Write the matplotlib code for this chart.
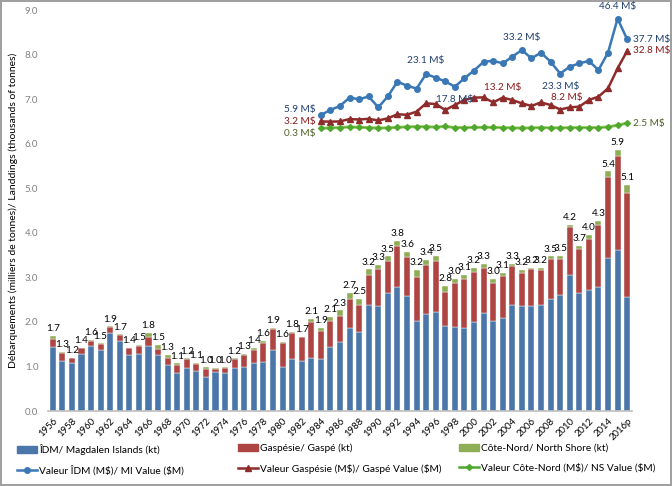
import numpy as np
import matplotlib
matplotlib.use("Agg")
import matplotlib.pyplot as plt
from matplotlib.patches import Patch
from matplotlib.lines import Line2D

plt.rcParams['font.family'] = ['Lato', 'DejaVu Sans']
plt.rcParams['text.parse_math'] = False

years = [str(y) for y in range(1956, 2016)] + ['2016p']

# landings (thousands of tonnes)
idm = [1.44, 1.13, 1.07, 1.29, 1.47, 1.38, 1.74, 1.58, 1.25, 1.29,
       1.47, 1.26, 1.04, 0.86, 0.97, 0.90, 0.77, 0.88, 0.86, 0.96,
       0.98, 1.07, 1.09, 1.37, 0.99, 1.17, 1.13, 1.18, 1.17, 1.43,
       1.56, 1.87, 1.78, 2.39, 2.36, 2.64, 2.79, 2.59, 2.03, 2.17,
       2.23, 1.90, 1.89, 1.87, 2.00, 2.19, 2.03, 2.09, 2.37, 2.35,
       2.35, 2.39, 2.51, 2.60, 3.05, 2.66, 2.71, 2.78, 3.43, 3.61, 2.57]
gaspe = [0.18, 0.18, 0.11, 0.12, 0.11, 0.13, 0.15, 0.13, 0.16, 0.18,
         0.20, 0.14, 0.16, 0.18, 0.19, 0.16, 0.18, 0.06, 0.10, 0.20,
         0.28, 0.31, 0.44, 0.46, 0.54, 0.57, 0.53, 0.82, 0.63, 0.59,
         0.58, 0.64, 0.61, 0.67, 0.83, 0.73, 0.92, 0.86, 0.97, 1.10,
         1.14, 0.78, 0.98, 1.10, 1.13, 1.03, 0.85, 0.95, 0.88, 0.75,
         0.83, 0.77, 0.90, 0.82, 1.07, 0.97, 1.16, 1.39, 1.83, 2.11, 2.33]
ns = [0.06, 0.01, 0.02, 0.01, 0.02, 0.01, 0.01, 0.01, 0.01, 0.02,
      0.09, 0.09, 0.06, 0.03, 0.02, 0.02, 0.03, 0.02, 0.02, 0.02,
      0.03, 0.03, 0.05, 0.03, 0.03, 0.03, 0.01, 0.06, 0.06, 0.09,
      0.12, 0.15, 0.12, 0.12, 0.09, 0.10, 0.11, 0.13, 0.16, 0.12,
      0.11, 0.13, 0.09, 0.09, 0.09, 0.08, 0.08, 0.06, 0.05, 0.06,
      0.04, 0.06, 0.06, 0.06, 0.06, 0.07, 0.09, 0.09, 0.12, 0.14, 0.18]

# landed values (M$), 1984 - 2016p
val_years = years[28:]
val_idm = [5.9, 8.0, 9.7, 13.2, 12.5, 13.7, 9.1, 13.7, 19.9, 18.2,
           17.0, 23.1, 21.6, 20.0, 17.8, 21.3, 24.6, 28.2, 28.7, 27.6,
           30.4, 33.2, 29.7, 32.1, 28.3, 23.3, 26.2, 27.6, 28.6, 24.8,
           32.1, 46.4, 37.7]
val_gaspe = [3.2, 3.1, 3.2, 4.2, 4.0, 4.3, 3.6, 4.5, 6.2, 6.0,
             7.3, 10.8, 10.5, 8.0, 10.1, 12.2, 13.2, 13.3, 11.2, 13.2,
             12.2, 10.8, 9.7, 11.2, 10.1, 8.2, 9.1, 9.4, 12.2, 13.6,
             17.1, 25.5, 32.8]
val_ns = [0.3, 0.5, 0.6, 0.9, 0.7, 0.6, 0.4, 0.5, 0.7, 0.9,
          1.0, 1.0, 0.8, 1.1, 0.6, 0.6, 0.7, 0.7, 0.7, 0.6,
          0.5, 0.4, 0.5, 0.6, 0.5, 0.5, 0.6, 0.6, 0.6, 0.6,
          0.9, 1.6, 2.5]

c_blue, c_red, c_green = '#4A76AA', '#AE4542', '#8DAE55'
l_blue, l_red, l_green = '#3A78B5', '#8E2B2B', '#4EA72E'
t_blue, t_red, t_green = '#1F3F6F', '#8B1A1A', '#4F6228'

fig = plt.figure(figsize=(6.72, 4.86), dpi=100)
fig.patch.set_edgecolor('#A0A0A0')
fig.patch.set_linewidth(1.5)
ax = fig.add_axes([0.0714, 0.1543, 0.869, 0.825])

x = np.arange(len(years))
idm_a, gaspe_a, ns_a = np.array(idm), np.array(gaspe), np.array(ns)
w = 0.63
ax.bar(x, idm_a, w, color=c_blue, edgecolor='white', linewidth=0.3)
ax.bar(x, gaspe_a, w, bottom=idm_a, color=c_red, edgecolor='white', linewidth=0.3)
tot = idm_a + gaspe_a + ns_a
ax.bar(x, ns_a, w, bottom=idm_a + gaspe_a, color=c_green, edgecolor='white', linewidth=0.3)
for xi, t in zip(x, tot):
    ax.annotate('%.1f' % t, (xi, t), xytext=(0, 2), textcoords='offset points',
                ha='center', va='bottom', fontsize=7.2, color='black')

ax.set_xlim(-0.5, len(years) - 0.5)
ax.set_ylim(0, 9)
ax.set_yticks(np.arange(0, 9.5, 1.0))
ax.set_yticklabels(['%.1f' % v for v in np.arange(0, 9.5, 1.0)])
ax.set_xticks(x[::2])
ax.set_xticklabels(years[::2], rotation=45, ha='right', va='top', rotation_mode='anchor')
ax.tick_params(axis='both', length=0)
ax.tick_params(axis='y', labelcolor='#808080', labelsize=7, pad=7)
ax.tick_params(axis='x', labelcolor='black', labelsize=6.8, pad=4)
for s in ['top', 'right', 'left']:
    ax.spines[s].set_visible(False)
ax.spines['bottom'].set_color('#BFBFBF')
ax.spines['bottom'].set_linewidth(1.2)
ax.set_ylabel('Débarquements (milliers de tonnes)/ Landdings (thousands of tonnes)',
              fontsize=7.5, color='black', labelpad=5)

# value lines on a hidden secondary scale
ax2 = ax.twinx()
ax2.set_ylim(-118.5, 50)
ax2.axis('off')
xv = x[28:]
ax2.plot(xv, val_idm, color=l_blue, lw=1.8, marker='o', ms=4)
ax2.plot(xv, val_gaspe, color=l_red, lw=1.8, marker='^', ms=4)
ax2.plot(xv, val_ns, color='#9BCB5A', lw=2.2)
ax2.plot(xv, val_ns, color=l_green, lw=0.8, marker='D', ms=3)

def vlab(i, vals, col, dx, dy, ha):
    ax2.annotate('%.1f M$' % vals[i], (xv[i], vals[i]), xytext=(dx, dy),
                 textcoords='offset points', ha=ha, va='center', fontsize=7.2, color=col)

vlab(0, val_idm, t_blue, -4, 4, 'right')
vlab(0, val_gaspe, t_red, -4, 0, 'right')
vlab(0, val_ns, t_green, -4, -4, 'right')
vlab(11, val_idm, t_blue, 0, 10, 'center')
vlab(14, val_idm, t_blue, 0, -9, 'center')
vlab(21, val_idm, t_blue, 0, 9, 'center')
vlab(25, val_idm, t_blue, 0, -9, 'center')
vlab(31, val_idm, t_blue, 0, 9, 'center')
vlab(32, val_idm, t_blue, 4, 0, 'left')
vlab(19, val_gaspe, t_red, 0, 7, 'center')
vlab(25, val_gaspe, t_red, 5, 9, 'center')
vlab(32, val_gaspe, t_red, 4, 0, 'left')
vlab(32, val_ns, t_green, 4, 0, 'left')

# legend: three columns placed like the original
cols = [
    (Patch(color=c_blue), 'ÎDM/ Magdalen Islands (kt)',
     Line2D([], [], color=l_blue, lw=1.8, marker='o', ms=4), 'Valeur ÎDM (M$)/ MI Value ($M)'),
    (Patch(color=c_red), 'Gaspésie/ Gaspé (kt)',
     Line2D([], [], color=l_red, lw=1.8, marker='^', ms=4), 'Valeur Gaspésie (M$)/ Gaspé Value ($M)'),
    (Patch(color=c_green), 'Côte-Nord/ North Shore (kt)',
     Line2D([], [], color=l_green, lw=1.8, marker='D', ms=3), 'Valeur Côte-Nord (M$)/ NS Value ($M)'),
]
for xpos, (h1, t1, h2, t2) in zip([0.025, 0.354, 0.683], cols):
    fig.legend([h1, h2], [t1, t2], loc='upper left', bbox_to_anchor=(xpos, 0.087),
               frameon=False, fontsize=7.3, handlelength=2.0, handletextpad=0.2,
               labelspacing=1.05, borderaxespad=0, borderpad=0)

fig.savefig('out.png', dpi=100)
